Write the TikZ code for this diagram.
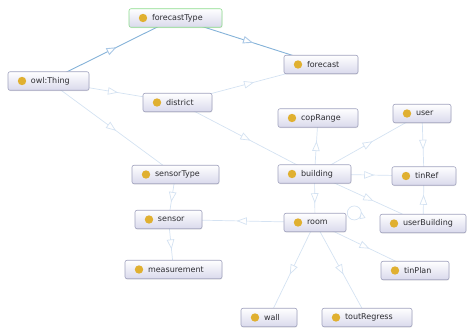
\documentclass[tikz,border=0pt]{standalone}
\usepackage{fontspec}
\newfontfamily\dejavu{DejaVu Sans}
\usetikzlibrary{arrows.meta,decorations.markings,shadows}
\pgfdeclarelayer{background}
\pgfsetlayers{background,main}

\definecolor{boxline}{RGB}{160,162,190}
\definecolor{boxbot}{RGB}{218,218,236}
\definecolor{dotcol}{RGB}{224,176,48}
\definecolor{txtcol}{RGB}{45,45,50}
\definecolor{edgelight}{RGB}{212,226,242}
\definecolor{edgedark}{RGB}{132,178,216}
\definecolor{tipdark}{RGB}{170,200,230}
\definecolor{selgreen}{RGB}{140,220,140}

\tikzset{
  cls/.style={draw=boxline, line width=0.6pt, rounded corners=2pt,
    top color=white, bottom color=boxbot,
    drop shadow={shadow xshift=0.4pt, shadow yshift=-0.8pt, opacity=0.18},
    inner xsep=0pt, inner ysep=0pt, minimum height=18.5pt,
    text=txtcol, font=\dejavu\fontsize{8}{9}\selectfont,
    execute at begin node={\hbox to #1\bgroup\hspace*{23pt}},
    execute at end node={\hfil\egroup},
    path picture={\fill[dotcol] ([xshift=14pt]path picture bounding box.west) circle (4.2pt);}},
  isa/.style={draw=edgelight, line width=0.7pt, postaction={decorate},
    decoration={markings, mark=at position 0.5 with
      {\arrow[xshift=5pt]{Triangle[length=10pt,width=7.5pt,fill=white]}}}},
  isadark/.style={draw=edgedark, line width=0.9pt, postaction={decorate},
    decoration={markings, mark=at position 0.5 with
      {\arrow[xshift=5pt, tipdark]{Triangle[length=10pt,width=7.5pt,fill=white]}}}}
}

\begin{document}
\begin{tikzpicture}[x=1pt,y=-1pt]
\useasboundingbox (0,0) rectangle (467,328);

% class boxes
\node[cls=93pt, draw=selgreen] (ft)       at (175.5,18)   {forecastType};
\node[cls=81pt] (thing)    at (48.5,81)    {owl:Thing};
\node[cls=69pt] (district) at (177.5,102.5){district};
\node[cls=74pt] (forecast) at (321,64.5)   {forecast};
\node[cls=80pt] (cop)      at (318,118)    {copRange};
\node[cls=58pt] (user)     at (422,113.5)  {user};
\node[cls=87pt] (stype)    at (175.5,174.5){sensorType};
\node[cls=67pt] (sensor)   at (168.5,219.5){sensor};
\node[cls=97pt] (meas)     at (173.5,269.5){measurement};
\node[cls=73pt] (building) at (314.5,174)  {building};
\node[cls=64pt] (tinref)   at (424,176)    {tinRef};
\node[cls=62pt] (room)     at (315,222.5)  {room};
\node[cls=86pt] (ubuild)   at (423,223.5)  {userBuilding};
\node[cls=68pt] (tinplan)  at (415,270.5)  {tinPlan};
\node[cls=56pt] (wall)     at (269,317.5)  {wall};
\node[cls=90pt] (tout)     at (367,317.5)  {toutRegress};

% subclass links
\begin{pgfonlayer}{background}
\draw[isadark] (thing.center) -- (ft.center);
\draw[isadark] (ft.center) -- (forecast.center);
\draw[isa] (thing.center) -- (district.center);
\draw[isa] (thing.center) -- (stype.center);
\draw[isa] (district.center) -- (forecast.center);
\draw[isa] (district.center) -- (building.center);
\draw[isa] (building.center) -- (cop.center);
\draw[isa] (building.center) -- (user.center);
\draw[isa] (user.center) -- (tinref.center);
\draw[isa] (building.center) -- (tinref.center);
\draw[isa] (building.center) -- (ubuild.center);
\draw[isa] (ubuild.center) -- (tinref.center);
\draw[isa] (building.center) -- (room.center);
\draw[isa] (room.center) -- (sensor.center);
\draw[isa] (room.center) -- (tinplan.center);
\draw[isa] (room.center) -- (wall.center);
\draw[isa] (room.center) -- (tout.center);
\draw[isa] (stype.center) -- (sensor.center);
\draw[isa] (sensor.center) -- (meas.center);
\coordinate (loopc) at ([xshift=8pt,yshift=0pt]room.north east);
\draw[draw=edgelight, line width=0.7pt, postaction={decorate},
  decoration={markings, mark=at position 0.03 with
    {\arrow{Triangle[length=7pt,width=6pt,fill=white]}}}]
  (loopc) circle (7pt);
\end{pgfonlayer}
\end{tikzpicture}
\end{document}
